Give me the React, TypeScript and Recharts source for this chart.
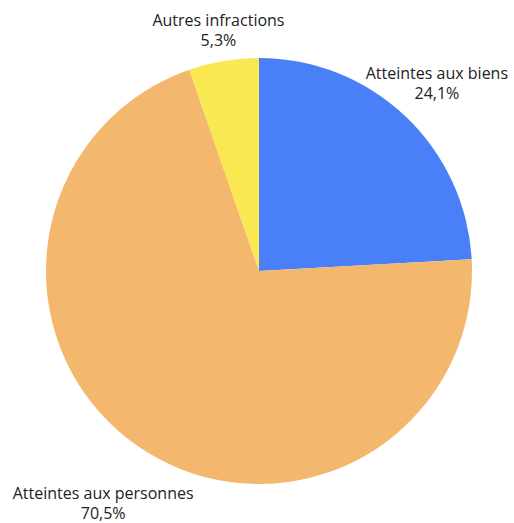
import { Cell, Pie, PieChart } from "recharts";

const categories = ["Atteintes aux biens", "Atteintes aux personnes", "Autres infractions"];
const shares = [24.1, 70.5, 5.3];
const shareLabels = ["24,1%", "70,5%", "5,3%"];
const colors = ["#4a80f7", "#f3b86e", "#f9e851"];

const data = categories.map((name, i) => ({ name, value: shares[i] }));

const W = 514;
const H = 523;
const RAD = Math.PI / 180;

// label box sits just outside the rim, pulled back along the ray if it would leave the chart
function SliceLabel(props: any) {
  const { cx, cy, outerRadius, midAngle, index } = props;
  const name = categories[index];
  const halfW = name.length * 3.9;
  const halfH = 20;
  const s = Math.cos(-midAngle * RAD);
  const c = Math.sin(-midAngle * RAD);
  let dist = outerRadius + halfW * Math.abs(s) + halfH * Math.abs(c);
  const over = cx + s * dist + halfW - (W - 3);
  if (s > 0 && over > 0) dist -= over / s;
  const under = 3 - (cx + s * dist - halfW);
  if (s < 0 && under > 0) dist -= under / -s;
  const x = cx + s * dist;
  const y = cy + c * dist;
  return (
    <text x={x} y={y} textAnchor="middle" fill="#222" fontSize={16} fontFamily="'Open Sans', sans-serif">
      <tspan x={x} dy={-4}>{name}</tspan>
      <tspan x={x} dy={20}>{shareLabels[index]}</tspan>
    </text>
  );
}

export default function App() {
  return (
    <div style={{ position: "absolute", left: 0, top: 0, width: W, height: H, background: "#fff" }}>
      <PieChart width={W} height={H} margin={{ top: 0, right: 0, bottom: 0, left: 0 }}>
        <Pie
          data={data}
          dataKey="value"
          nameKey="name"
          cx={259}
          cy={271}
          outerRadius={213}
          startAngle={90}
          endAngle={-270}
          stroke="none"
          label={SliceLabel}
          labelLine={false}
          isAnimationActive={false}
        >
          {data.map((d, i) => (
            <Cell key={d.name} fill={colors[i]} />
          ))}
        </Pie>
      </PieChart>
    </div>
  );
}
